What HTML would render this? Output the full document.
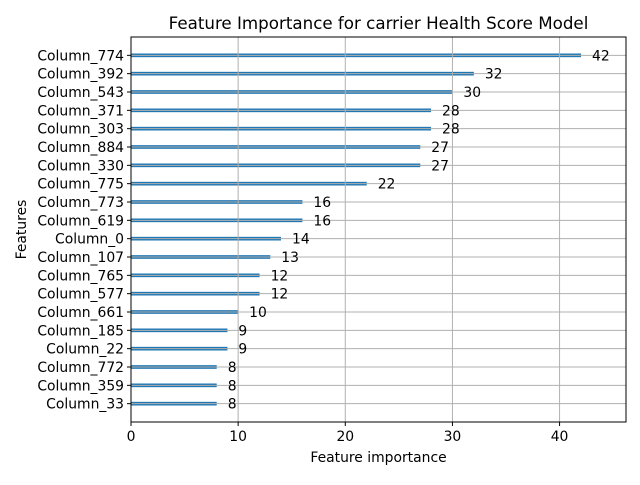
<!DOCTYPE html>
<html><head><meta charset="utf-8"><style>
body{margin:0;background:#fff;font-family:"Liberation Sans","DejaVu Sans",sans-serif;}
</style></head><body>
<svg id="chart" width="640" height="480" xmlns="http://www.w3.org/2000/svg" font-family="DejaVu Sans, Liberation Sans, sans-serif">
<rect width="640" height="480" fill="#fff"/>
<g id="bars"></g><g id="grid"></g><g id="axes"></g>
</svg>
<script>
const categories=["Column_774","Column_392","Column_543","Column_371","Column_303","Column_884","Column_330","Column_775","Column_773","Column_619","Column_0","Column_107","Column_765","Column_577","Column_661","Column_185","Column_22","Column_772","Column_359","Column_33"];
const values=[42,32,30,28,28,27,27,22,16,16,14,13,12,12,10,9,9,8,8,8];
const xTicks=[0,10,20,30,40];
const L=131,R=626,T=37,B=422,xMax=46.2,FS=13.9;
const NS="http://www.w3.org/2000/svg";
function x(v){return L+v/xMax*(R-L);}
const n=categories.length;
function y(i){const idx=n-1-i;return B-(idx+1)/(n+1)*(B-T);}
function mk(tag,attrs,parent,text){const e=document.createElementNS(NS,tag);for(const k in attrs)e.setAttribute(k,attrs[k]);if(text!==undefined)e.textContent=text;parent.appendChild(e);return e;}
const grid=document.getElementById('grid'),bars=document.getElementById('bars'),axes=document.getElementById('axes');
xTicks.forEach(t=>{
 const g=mk('line',{x1:x(t),x2:x(t),y1:T,y2:B,stroke:'#b0b0b0','stroke-width':1},grid);
 
 
 const tk=mk('line',{x1:x(t),x2:x(t),y1:B,y2:B+4,stroke:'#000'},axes);
 
 
 const tl=mk('text',{x:x(t),y:B+19,'text-anchor':'middle','font-size':FS},axes,String(t));
 
 
});
categories.forEach((c,i)=>{
 const yy=y(i);
 const gl=mk('line',{x1:L,x2:R,y1:yy,y2:yy,stroke:'#b0b0b0','stroke-width':1},grid);
 
 
 const h=0.2*(B-T)/(n+1);
 const b=mk('rect',{x:L,y:yy-h/2,width:x(values[i])-L,height:h,fill:'#1f77b4'},bars);
 
 
 const vl=mk('text',{x:x(values[i])+11,y:yy+5,'font-size':FS},axes,String(values[i]));
 
 
 const tk=mk('line',{x1:L-4,x2:L,y1:yy,y2:yy,stroke:'#000'},axes);
 
 
 const yl=mk('text',{x:L-7,y:yy+5,'text-anchor':'end','font-size':FS},axes,c);
 
 
});
const fr=mk('rect',{x:L,y:T,width:R-L,height:B-T,fill:'none',stroke:'#000','stroke-width':1},axes);


const ti=mk('text',{x:(L+R)/2,y:T-8,'text-anchor':'middle','font-size':16.7},axes,'Feature Importance for carrier Health Score Model');


const xt=mk('text',{x:(L+R)/2,y:462,'text-anchor':'middle','font-size':FS},axes,'Feature importance');


const yt=mk('text',{x:26,y:(T+B)/2,'text-anchor':'middle','font-size':FS,transform:'rotate(-90 26 '+(T+B)/2+')'},axes,'Features');


</script>
</body></html>
